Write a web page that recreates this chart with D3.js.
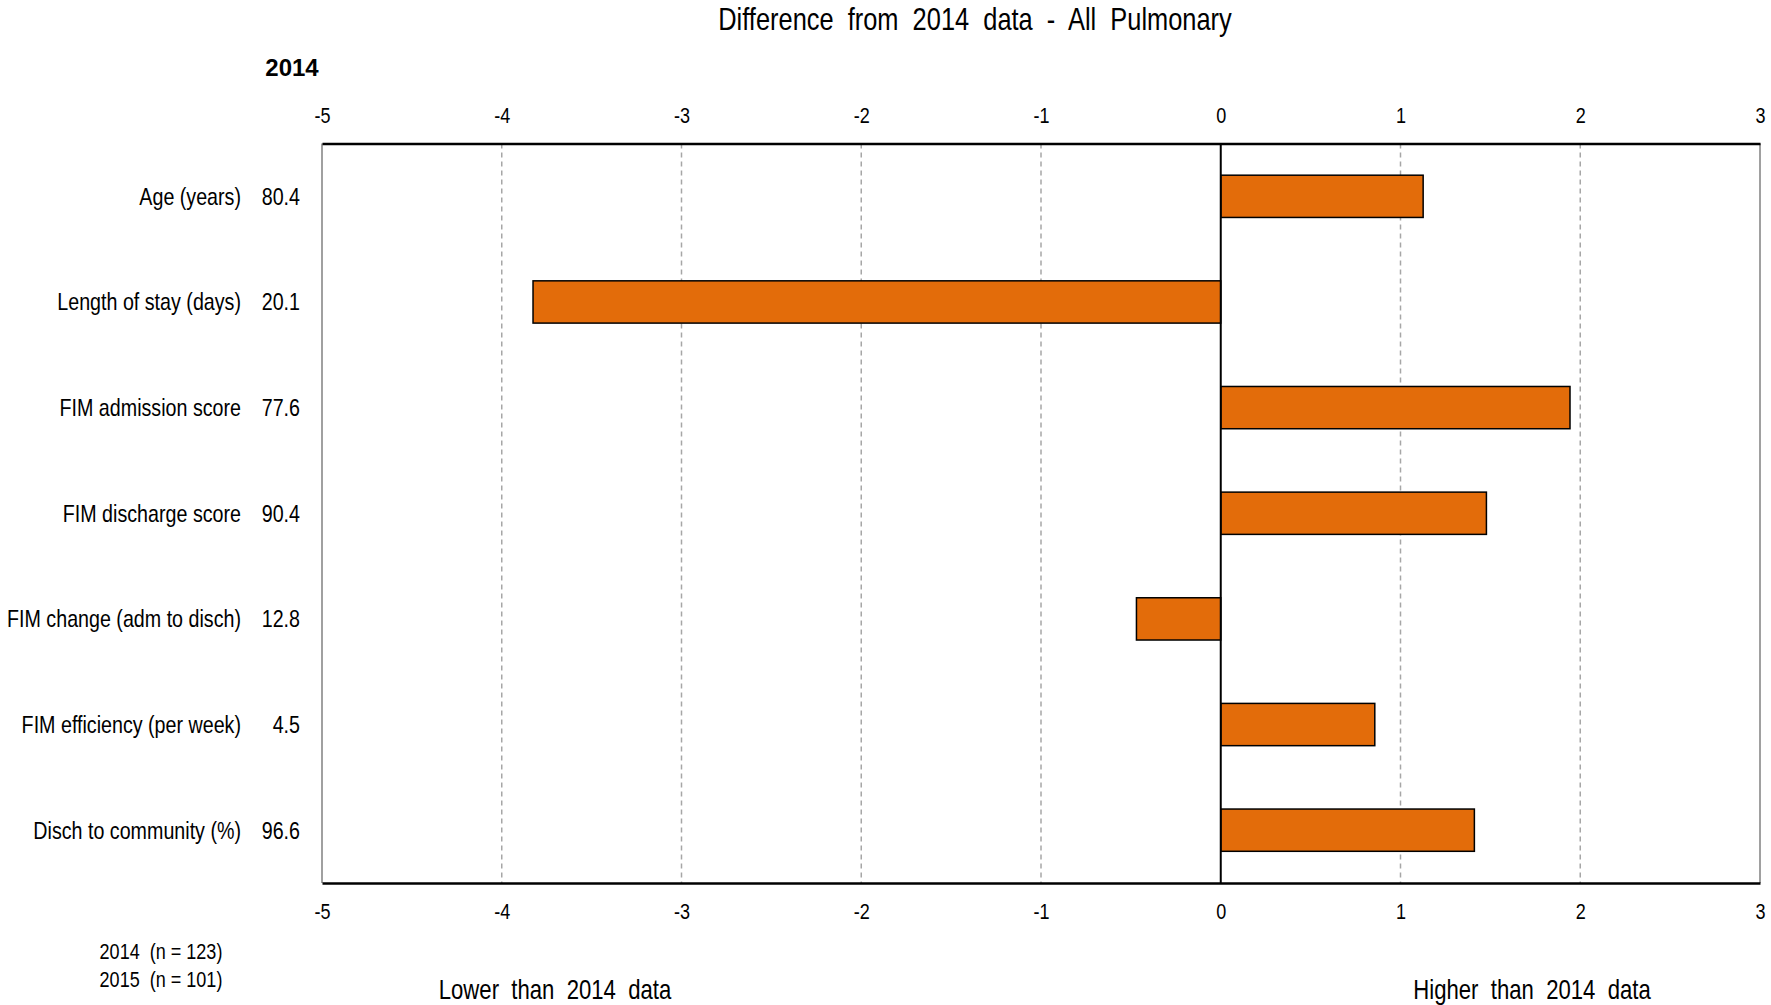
<!DOCTYPE html>
<html>
<head>
<meta charset="utf-8">
<script src="https://cdn.jsdelivr.net/npm/d3@7"></script>
<style>
  html, body { margin: 0; padding: 0; background: #fff; }
  svg text { font-family: 'Liberation Sans', Arial, sans-serif; fill: #000; }
</style>
</head>
<body>
<svg id="chart" width="1771" height="1005"></svg>
<script>
const categories = ["Age (years)", "Length of stay (days)", "FIM admission score", "FIM discharge score", "FIM change (adm to disch)", "FIM efficiency (per week)", "Disch to community (%)"];
const values2014 = ["80.4", "20.1", "77.6", "90.4", "12.8", "4.5", "96.6"];
const differences = [1.126, -3.826, 1.943, 1.478, -0.469, 0.857, 1.411];
const xTicks = [-5, -4, -3, -2, -1, 0, 1, 2, 3];
const sampleNotes = ["2014  (n = 123)", "2015  (n = 101)"];
const chartTitle = "Difference  from  2014  data  -  All  Pulmonary";
const baseYearLabel = "2014";
const lowerLabel = "Lower  than  2014  data";
const higherLabel = "Higher  than  2014  data";

(function () {
const W = 1771, H = 1005;
const NARROW = 0.82;
const margin = { top: 143.5, right: 11, bottom: 122, left: 322 };
const svg = d3.select("#chart");
svg.append("rect").attr("width", W).attr("height", H).attr("fill", "#fff");

const x = d3.scaleLinear().domain([-5, 3]).range([margin.left, W - margin.right]);
const y = d3.scaleBand().domain(categories).range([margin.top, H - margin.bottom]).paddingInner(0.6).paddingOuter(0.3);
const yTop = margin.top, yBot = H - margin.bottom;

function ntext(parent, tx, ty, str, size, anchor) {
  return parent.append("text")
    .attr("transform", `translate(${tx},${ty}) scale(${NARROW},1)`)
    .attr("text-anchor", anchor || "middle")
    .attr("font-size", size)
    .style("white-space", "pre")
    .text(str);
}

// gridlines
svg.append("g").selectAll("line").data(xTicks.filter(t => t !== 0 && t !== -5 && t !== 3)).join("line")
  .attr("x1", d => x(d)).attr("x2", d => x(d)).attr("y1", yTop).attr("y2", yBot)
  .attr("stroke", "#a6a6a6").attr("stroke-width", 1.5).attr("stroke-dasharray", "5,4");

// side borders
svg.append("g").selectAll("line").data([-5, 3]).join("line")
  .attr("x1", d => x(d)).attr("x2", d => x(d)).attr("y1", yTop).attr("y2", yBot)
  .attr("stroke", "#808080").attr("stroke-width", 1.5);

// bars
const data = categories.map((c, i) => ({ c, v: differences[i], base: values2014[i] }));
svg.append("g").selectAll("rect").data(data).join("rect")
  .attr("x", d => x(Math.min(0, d.v)))
  .attr("width", d => Math.abs(x(d.v) - x(0)))
  .attr("y", d => y(d.c))
  .attr("height", y.bandwidth())
  .attr("fill", "#e36c0a").attr("stroke", "#000").attr("stroke-width", 1.5);

// zero line
svg.append("line").attr("x1", x(0)).attr("x2", x(0)).attr("y1", yTop).attr("y2", yBot)
  .attr("stroke", "#000").attr("stroke-width", 2);

// top & bottom axes
const fmt = d => String(d);
const axTop = svg.append("g").attr("transform", `translate(0,${yTop})`)
  .call(d3.axisTop(x).tickValues(xTicks).tickSize(0).tickPadding(21).tickFormat(fmt));
const axBot = svg.append("g").attr("transform", `translate(0,${yBot})`)
  .call(d3.axisBottom(x).tickValues(xTicks).tickSize(0).tickPadding(20).tickFormat(fmt));
[axTop, axBot].forEach(a => {
  a.select(".domain").attr("stroke", "#000").attr("stroke-width", 2.5);
  a.selectAll("text").attr("font-size", 22).attr("fill", "#000")
    .attr("transform", `scale(${NARROW},1)`)
    .style("font-family", "'Liberation Sans', Arial, sans-serif");
});

// category labels & base values
const lab = svg.append("g");
lab.selectAll("text.cat").data(data).join("text").attr("class", "cat")
  .attr("transform", d => `translate(241,${y(d.c) + y.bandwidth() / 2}) scale(${NARROW},1)`)
  .attr("dy", "0.35em").attr("text-anchor", "end").attr("font-size", 24).text(d => d.c);
lab.selectAll("text.val").data(data).join("text").attr("class", "val")
  .attr("transform", d => `translate(300,${y(d.c) + y.bandwidth() / 2}) scale(${NARROW},1)`)
  .attr("dy", "0.35em").attr("text-anchor", "end").attr("font-size", 24).text(d => d.base);

// title etc
ntext(svg, 975, 30, chartTitle, 31, "middle");
svg.append("text").attr("x", 292).attr("y", 76).attr("text-anchor", "middle")
  .attr("font-size", 24).attr("font-weight", "bold").text(baseYearLabel);
sampleNotes.forEach((s, i) => ntext(svg, 161, 959 + i * 28, s, 22, "middle"));
ntext(svg, 555, 999, lowerLabel, 27, "middle");
ntext(svg, 1532, 999, higherLabel, 27, "middle");
})();
</script>
</body>
</html>
